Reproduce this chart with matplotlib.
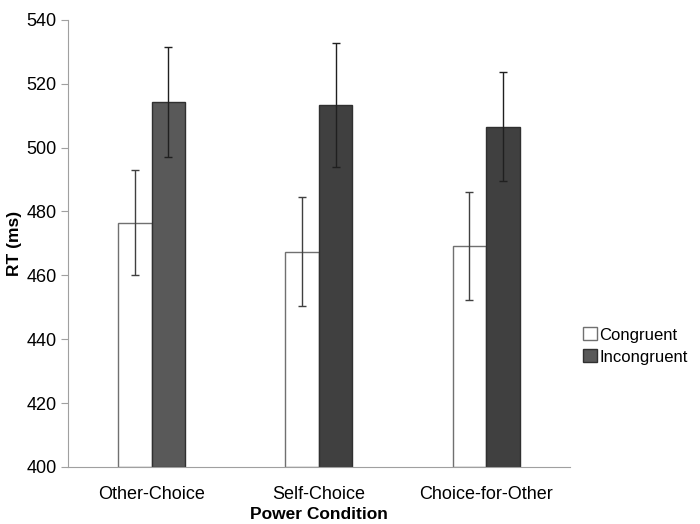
import numpy as np
import matplotlib.pyplot as plt

plt.rcParams['font.family'] = ['Liberation Sans', 'DejaVu Sans']

categories = ['Other-Choice', 'Self-Choice', 'Choice-for-Other']
congruent = [476.5, 467.4, 469.2]
congruent_err = [16.5, 17.0, 17.0]
incongruent = [514.2, 513.4, 506.5]
incongruent_err = [17.2, 19.5, 17.1]

x = np.arange(len(categories))
w = 0.2

fig = plt.figure(figsize=(7, 5.24), dpi=100)
ax = fig.add_axes([0.097, 0.109, 0.717, 0.853])

ax.bar(x - w/2, np.array(congruent) - 400, w, bottom=400, color='white',
       edgecolor='#707070', linewidth=1, label='Congruent')
ax.bar(x + w/2, np.array(incongruent) - 400, w, bottom=400,
       color=['#595959', '#404040', '#404040'], edgecolor='#303030',
       linewidth=1, label='Incongruent')
ax.errorbar(x - w/2, congruent, yerr=congruent_err, fmt='none',
            ecolor='#404040', elinewidth=1, capsize=3, capthick=1)
ax.errorbar(x + w/2, incongruent, yerr=incongruent_err, fmt='none',
            ecolor='#202020', elinewidth=1, capsize=3, capthick=1)

ax.set_xlim(-0.5, 2.5)
ax.set_ylim(400, 540)
ax.set_yticks(np.arange(400, 541, 20))
ax.set_xticks(x)
ax.set_xticklabels(categories, fontsize=13)
ax.tick_params(axis='y', labelsize=13, length=5, color='#a0a0a0', pad=3)
ax.tick_params(axis='x', length=0, pad=14)
for s in ['top', 'right']:
    ax.spines[s].set_visible(False)
for s in ['left', 'bottom']:
    ax.spines[s].set_color('#a0a0a0')

ax.set_ylabel('RT (ms)', fontsize=12.5, fontweight='bold', labelpad=3)
ax.set_xlabel('Power Condition', fontsize=12.5, fontweight='bold', labelpad=3)

handles, labels = ax.get_legend_handles_labels()
fig.legend(handles, labels, loc='center left', bbox_to_anchor=(0.823, 0.34),
           frameon=False, fontsize=12, handlelength=0.85, handleheight=0.85,
           handletextpad=0.15, labelspacing=0.4, borderaxespad=0)

fig.savefig('out.png', dpi=100)
